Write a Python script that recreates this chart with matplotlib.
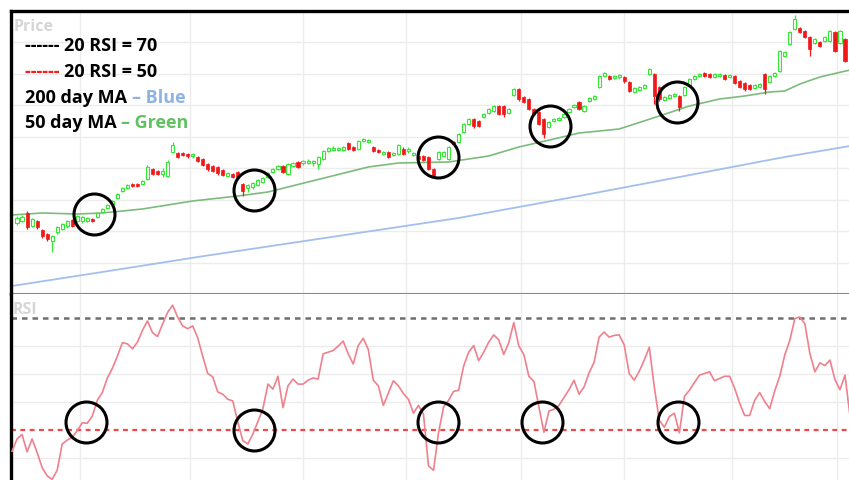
import matplotlib
matplotlib.use("Agg")
import matplotlib.pyplot as plt
import numpy as np

# daily candles, day 0 .. 165
opens = [27.1, 27.3, 28.1, 26.8, 27.3, 26.4, 26.0, 25.3, 26.2, 26.5,
         26.8, 27.4, 27.3, 27.3, 27.3, 27.5, 27.7, 28.2, 28.6, 29.0,
         29.6, 30.3, 30.6, 31.0, 31.0, 31.0, 31.5, 32.5, 32.3, 32.0,
         31.8, 34.2, 34.1, 34.1, 34.0, 33.8, 33.7, 33.5, 33.0, 32.8,
         32.7, 32.4, 31.8, 32.0, 32.2, 31.0, 30.6, 30.7, 30.9, 31.2,
         31.7, 32.2, 32.5, 32.8, 32.0, 32.8, 33.2, 33.1, 33.1, 33.1,
         33.0, 33.5, 34.3, 34.4, 34.4, 34.4, 35.1, 34.7, 34.5, 35.3,
         35.2, 34.7, 34.4, 34.0, 34.2, 33.9, 34.0, 34.5, 34.3, 33.9,
         33.8, 33.8, 33.7, 32.5, 33.5, 33.8, 33.5, 35.2, 35.2, 36.2,
         37.0, 37.5, 37.3, 37.7, 38.1, 38.3, 38.8, 38.8, 38.1, 39.9,
         40.5, 39.7, 39.5, 38.5, 38.2, 37.5, 36.7, 37.3, 37.4, 37.7,
         38.2, 38.7, 39.2, 38.3, 39.3, 39.5, 40.7, 41.8, 41.8, 41.6,
         41.7, 41.7, 41.2, 40.2, 40.4, 40.6, 42.0, 42.0, 40.7, 39.4,
         39.6, 39.8, 39.8, 39.9, 40.9, 41.5, 41.8, 42.1, 42.0, 41.7,
         41.8, 41.9, 41.7, 41.8, 41.3, 41.1, 40.9, 40.6, 40.7, 42.0,
         41.2, 41.8, 42.3, 43.8, 45.0, 46.5, 46.6, 46.3, 45.7, 45.1,
         45.2, 45.3, 45.3, 46.2, 45.1, 45.5]
closes = [27.6, 27.7, 26.7, 27.5, 26.7, 25.8, 25.5, 25.8, 26.7, 27.0,
          27.3, 26.8, 27.8, 27.7, 27.6, 27.3, 28.1, 28.5, 28.9, 29.3,
          30.0, 30.6, 30.9, 30.8, 30.8, 31.3, 32.7, 32.0, 32.0, 32.3,
          33.2, 34.9, 33.7, 33.9, 33.8, 34.0, 33.3, 32.9, 32.5, 32.3,
          32.1, 31.9, 32.1, 31.7, 31.7, 30.3, 30.9, 31.1, 31.4, 31.6,
          32.1, 32.5, 32.8, 32.2, 33.0, 33.1, 32.7, 33.3, 33.3, 33.3,
          33.7, 34.3, 34.6, 34.6, 34.6, 34.7, 34.5, 34.4, 35.3, 35.5,
          35.4, 34.3, 34.2, 34.2, 33.7, 34.1, 34.9, 34.0, 34.5, 34.1,
          33.5, 33.4, 32.5, 31.8, 34.2, 34.2, 34.7, 35.0, 36.0, 37.0,
          37.5, 36.8, 36.8, 38.0, 38.5, 38.8, 38.0, 38.0, 38.5, 40.5,
          39.5, 39.2, 38.5, 38.0, 37.0, 36.0, 37.2, 37.5, 37.6, 38.0,
          38.5, 38.9, 38.5, 38.8, 39.6, 39.8, 41.8, 42.1, 41.5, 41.8,
          41.9, 41.3, 40.3, 40.6, 40.7, 40.9, 42.5, 39.8, 39.5, 39.7,
          39.9, 40.0, 38.7, 40.7, 41.5, 41.8, 42.0, 41.8, 41.7, 42.0,
          42.0, 41.5, 41.9, 41.1, 40.7, 40.5, 40.5, 40.9, 41.0, 40.5,
          41.8, 42.1, 44.3, 44.2, 46.2, 47.5, 46.2, 45.7, 44.5, 45.5,
          44.8, 45.7, 46.3, 44.3, 46.3, 43.3]
highs = [27.8, 27.9, 28.3, 27.6, 27.4, 26.5, 26.1, 25.9, 26.8, 27.1,
         27.4, 27.5, 27.9, 27.8, 27.7, 27.6, 28.2, 28.6, 29.0, 29.4,
         30.1, 30.7, 31.0, 31.1, 31.1, 31.4, 32.9, 32.6, 32.4, 32.6,
         33.4, 35.2, 34.2, 34.2, 34.1, 34.1, 33.8, 33.6, 33.1, 32.9,
         32.8, 32.5, 32.2, 32.1, 32.3, 31.1, 31.0, 31.2, 31.5, 31.7,
         32.2, 32.6, 32.9, 32.9, 33.1, 33.2, 33.3, 33.4, 33.5, 33.4,
         33.8, 34.4, 34.7, 34.8, 34.7, 34.8, 35.2, 34.8, 35.4, 35.6,
         35.5, 34.8, 34.5, 34.3, 34.3, 34.2, 35.0, 34.7, 34.7, 34.2,
         33.9, 33.9, 33.8, 32.6, 34.3, 34.3, 34.8, 35.3, 36.1, 37.1,
         37.6, 37.6, 37.4, 38.1, 38.6, 38.9, 38.9, 38.9, 38.6, 40.6,
         40.6, 39.8, 39.6, 38.6, 38.3, 37.6, 37.3, 37.6, 37.7, 38.1,
         38.6, 39.0, 39.3, 38.9, 39.7, 39.9, 41.9, 42.2, 41.9, 41.9,
         42.0, 41.8, 41.3, 40.7, 40.8, 41.0, 42.6, 42.1, 40.8, 39.8,
         40.0, 40.1, 39.9, 40.8, 41.6, 41.9, 42.1, 42.2, 42.1, 42.1,
         42.1, 42.0, 42.0, 41.9, 41.4, 41.2, 41.0, 41.0, 41.1, 42.1,
         41.9, 42.2, 44.4, 44.3, 46.3, 47.9, 46.7, 46.4, 45.8, 45.6,
         45.3, 45.8, 46.4, 46.3, 46.4, 45.6]
lows = [26.9, 27.2, 26.5, 26.7, 26.5, 25.6, 25.3, 24.2, 26.0, 26.4,
        26.6, 26.7, 27.2, 27.1, 27.2, 27.2, 27.6, 28.1, 28.5, 28.9,
        29.5, 30.2, 30.5, 30.7, 30.7, 30.9, 31.4, 31.9, 31.9, 31.7,
        31.7, 34.1, 33.6, 33.8, 33.6, 33.6, 33.2, 32.8, 32.3, 32.2,
        31.9, 31.8, 31.7, 31.6, 31.5, 29.8, 30.2, 30.5, 30.8, 31.1,
        31.6, 32.1, 32.4, 32.1, 31.9, 32.7, 32.6, 32.9, 33.0, 32.8,
        32.5, 33.4, 34.2, 34.3, 34.3, 34.3, 34.4, 34.3, 34.4, 35.2,
        35.1, 34.2, 34.1, 33.9, 33.6, 33.8, 33.9, 33.9, 34.1, 33.8,
        33.4, 33.3, 32.4, 31.6, 33.4, 33.7, 33.4, 34.9, 35.1, 36.1,
        36.9, 36.6, 36.7, 37.6, 38.0, 38.2, 37.9, 37.7, 38.0, 39.8,
        39.3, 39.1, 38.4, 37.9, 36.9, 35.6, 36.6, 37.2, 37.3, 37.6,
        38.1, 38.6, 38.4, 38.2, 39.2, 39.4, 40.6, 41.7, 41.4, 41.5,
        41.5, 41.1, 40.2, 40.1, 40.3, 40.5, 41.9, 39.0, 39.3, 39.3,
        39.5, 39.7, 38.3, 39.8, 40.8, 41.4, 41.7, 41.7, 41.6, 41.6,
        41.7, 41.4, 41.6, 41.0, 40.6, 40.3, 40.4, 40.5, 40.6, 40.0,
        41.1, 41.7, 42.2, 43.7, 44.9, 46.4, 46.1, 45.6, 43.8, 45.0,
        44.7, 45.2, 45.2, 44.2, 45.0, 43.2]

# moving averages (read at a few days along each line)
ma50_days = [-1, 5, 12, 17, 25, 35, 44, 50, 54, 62, 70, 76, 86, 94, 100,
             107, 112, 120, 128, 134, 140, 145, 150, 153, 156, 160, 166]
ma50 = [27.9, 28.1, 28.0, 28.1, 28.5, 29.3, 29.8, 30.2, 30.7, 31.7, 32.7,
        33.1, 33.2, 33.8, 34.7, 35.5, 36.1, 36.5, 37.8, 38.8, 39.5, 39.8,
        40.2, 40.3, 41.0, 41.7, 42.4]
ma200_days = [-1, 17, 36, 56, 76, 88, 112, 132, 153, 166]
ma200 = [20.8, 22.2, 23.7, 25.2, 26.7, 27.6, 29.8, 31.7, 33.7, 34.8]

# RSI, day -1 .. 166
rsi = [46.2, 48.4, 49.2, 46.1, 48.4, 46.0, 43.3, 41.8, 41.2, 42.8,
       47.5, 48.2, 48.7, 49.9, 51.3, 51.2, 52.5, 55.3, 56.7, 59.3,
       61.0, 63.2, 65.6, 65.4, 64.5, 65.7, 67.8, 69.5, 67.4, 66.7,
       68.9, 71.0, 72.3, 70.2, 68.6, 68.1, 68.6, 66.5, 63.2, 60.1,
       59.5, 56.8, 56.4, 55.5, 55.2, 51.4, 48.1, 47.5, 49.3, 51.5,
       53.8, 58.2, 57.3, 59.6, 54.0, 57.9, 59.1, 58.2, 58.2, 58.9,
       59.3, 59.1, 63.6, 63.9, 64.2, 65.0, 65.9, 63.6, 61.8, 65.1,
       66.4, 64.4, 58.9, 57.9, 54.4, 56.6, 58.8, 57.9, 56.5, 55.5,
       53.0, 54.4, 52.8, 43.6, 42.8, 49.5, 54.1, 55.3, 56.9, 57.1,
       61.4, 63.9, 65.1, 62.4, 63.9, 65.7, 67.0, 66.1, 63.5, 65.6,
       69.2, 65.0, 63.5, 59.6, 58.7, 54.1, 49.6, 53.4, 53.7, 54.4,
       55.8, 57.2, 58.9, 56.4, 57.7, 60.2, 62.1, 66.6, 67.5, 66.6,
       66.9, 67.0, 65.2, 60.1, 58.9, 60.5, 62.5, 64.8, 57.7, 51.7,
       50.5, 52.4, 53.0, 49.5, 56.0, 57.1, 58.5, 59.8, 60.1, 60.4,
       58.8, 59.2, 59.6, 59.6, 57.5, 54.8, 52.6, 52.6, 55.3, 56.7,
       55.1, 53.8, 57.0, 59.6, 63.4, 66.0, 69.9, 70.2, 69.0, 63.7,
       60.4, 62.0, 61.5, 62.5, 59.0, 57.2, 59.8, 52.5]
rsi_days = np.arange(-1, -1 + len(rsi))

# month boundaries and circled crossings
month_starts = [12.5, 34.5, 57, 77.5, 100.5, 121, 142.5, 163.5]
circle_days = [15.3, 47.2, 83.9, 106.2, 131.5]
circle_price = [28.0, 30.4, 33.7, 36.8, 39.2]
circle_rsi_days = [13.7, 47.2, 83.9, 104.6, 131.7]
circle_rsi = [51.4, 50.0, 51.4, 51.4, 51.4]

W, H = 849, 481
fig = plt.figure(figsize=(W / 100, H / 100), dpi=100)
ax1 = fig.add_axes([11 / W, 1 - 295 / H, 838 / W, 283 / H])
ax2 = fig.add_axes([11 / W, 0, 838 / W, 186 / H])

green = '#33e833'
red = '#f01818'
label_font = ['Open Sans', 'DejaVu Sans']

for ax in (ax1, ax2):
    ax.set_xlim(-1.2, 165.8)
    ax.set_xticks(month_starts)
    ax.grid(True, color='#ececec', lw=1.0)
    ax.set_axisbelow(True)
    ax.tick_params(length=0, labelbottom=False, labelleft=False)
    ax.spines['right'].set_visible(False)
    ax.spines['left'].set_color('black')
    ax.spines['left'].set_linewidth(2.4)

ax1.spines['top'].set_color('black')
ax1.spines['top'].set_linewidth(2.4)
ax1.spines['bottom'].set_color('#888888')
ax1.spines['bottom'].set_linewidth(1.5)
ax2.spines['top'].set_visible(False)
ax2.spines['bottom'].set_visible(False)

# price panel
ax1.set_ylim(20.0, 48.3)
ax1.set_yticks(np.linspace(20.0, 48.3, 10))
days = np.arange(len(opens))
o = np.array(opens)
c = np.array(closes)
up = c >= o
cols = np.where(up, green, red)
ax1.vlines(days, lows, highs, colors=cols, lw=0.9, zorder=3)
ax1.bar(days[up], c[up] - o[up], bottom=o[up], width=0.62,
        facecolor='white', edgecolor=green, lw=0.8, zorder=4)
ax1.bar(days[~up], o[~up] - c[~up], bottom=c[~up], width=0.62,
        facecolor=red, edgecolor=red, lw=0.5, zorder=4)
ax1.plot(ma50_days, ma50, color='#7dbb7d', lw=1.2, zorder=2)
ax1.plot(ma200_days, ma200, color='#a3bfee', lw=1.3, zorder=2)
ax1.plot(circle_days, circle_price, 'o', ms=29.5, mfc='none', mec='black',
         mew=2.2, zorder=6)
ax1.text(0.003, 0.975, 'Price', transform=ax1.transAxes, color='#d6d6d6',
         fontsize=11.5, fontweight='bold', family=label_font, va='top')

# RSI panel
ax2.set_ylim(41.07, 74.3)
ax2.set_yticks([45, 55, 60, 65])
ax2.axhline(70, color='#6e6e6e', lw=1.8, ls=(0, (2.2, 2.0)), zorder=2)
ax2.axhline(50, color='#f04848', lw=1.6, ls=(0, (2.2, 2.0)), zorder=2)
ax2.plot(rsi_days, rsi, color='#f0808e', lw=1.2, zorder=3)
ax2.plot(circle_rsi_days, circle_rsi, 'o', ms=29.5, mfc='none', mec='black',
         mew=2.2, zorder=6)
ax2.text(0.002, 0.965, 'RSI', transform=ax2.transAxes, color='#d6d6d6',
         fontsize=11.5, fontweight='bold', family=label_font, va='top')

# legend written as coloured text pieces
renderer = fig.canvas.get_renderer()
legend_lines = [
    (51, [('------ ', 'black'), ('20 RSI = 70', 'black')]),
    (77, [('------ ', '#ff1a1a'), ('20 RSI = 50', 'black')]),
    (103, [('200 day MA ', 'black'), ('\u2013 Blue', '#8db3e2')]),
    (128, [('50 day MA ', 'black'), ('\u2013 Green', '#63c063')]),
]
for y, parts in legend_lines:
    x = 25
    for s, col in parts:
        t = fig.text(x / W, 1 - y / H, s, color=col, fontsize=13,
                     fontweight='bold', family=label_font, va='baseline')
        x += t.get_window_extent(renderer=renderer).width

fig.savefig('out.png', dpi=100)
